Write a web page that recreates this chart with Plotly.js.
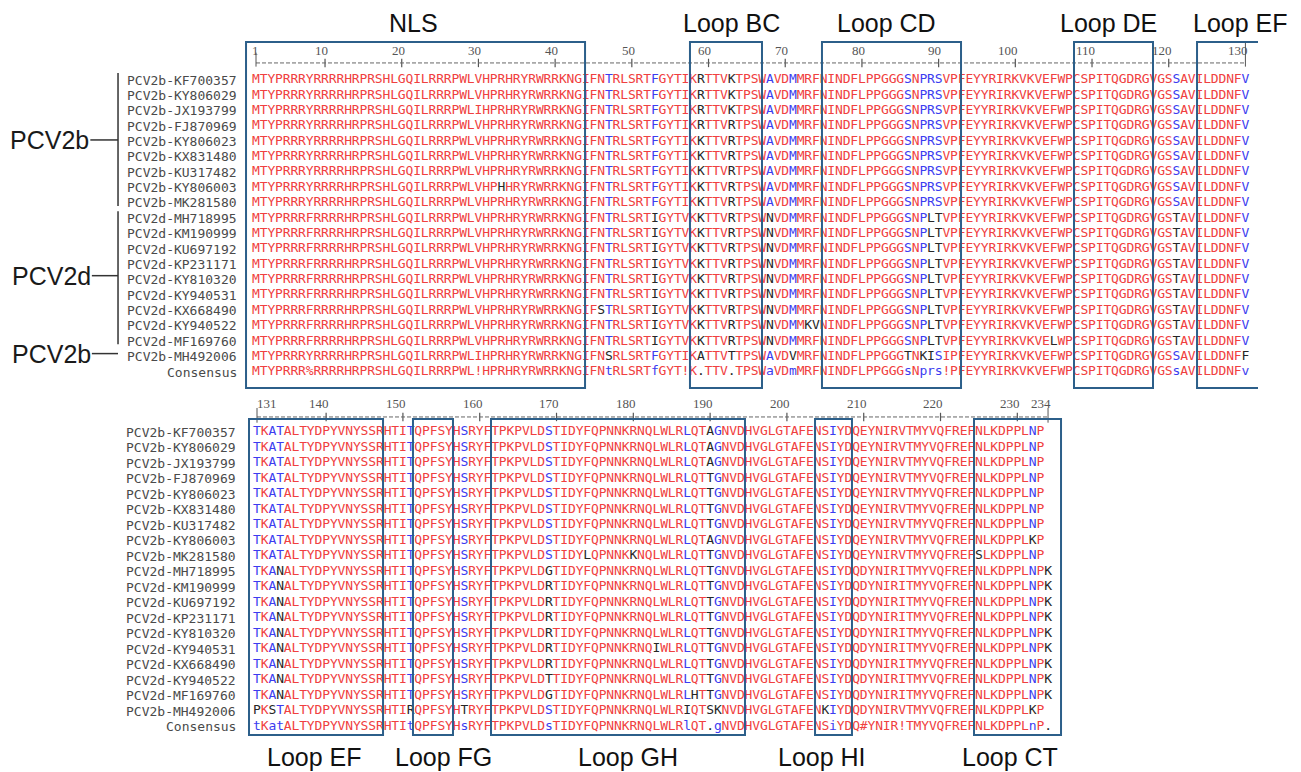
<!DOCTYPE html>
<html>
<head>
<meta charset="utf-8">
<script src="https://cdn.plot.ly/plotly-3.0.1.min.js"></script>
<style>
html,body{margin:0;padding:0;background:#fff;overflow:hidden}
#chart{width:1301px;height:772px}
</style>
</head>
<body>
<div id="chart"></div>
<script>
// ---------------- DATA ----------------
const seqNames = [
  "PCV2b-KF700357","PCV2b-KY806029","PCV2b-JX193799","PCV2b-FJ870969","PCV2b-KY806023",
  "PCV2b-KX831480","PCV2b-KU317482","PCV2b-KY806003","PCV2b-MK281580","PCV2d-MH718995",
  "PCV2d-KM190999","PCV2d-KU697192","PCV2d-KP231171","PCV2d-KY810320","PCV2d-KY940531",
  "PCV2d-KX668490","PCV2d-KY940522","PCV2d-MF169760","PCV2b-MH492006"
];
const consensusName = "Consensus";

// aligned capsid sequences (spaces every 10 residues only for readability)
const seqs = [
"MTYPRRRYRR RRHRPRSHLG QILRRRPWLV HPRHRYRWRR KNGIFNTRLS RTFGYTIKRT TVKTPSWAVD MMRFNINDFL PPGGGSNPRS VPFEYYRIRK VKVEFWPCSP ITQGDRGVGS SAVILDDNFV TKATALTYDP YVNYSSRHTI TQPFSYHSRY FTPKPVLDST IDYFQPNNKR NQLWLRLQTA GNVDHVGLGT AFENSIYDQE YNIRVTMYVQ FREFNLKDPP LNP",
"MTYPRRRYRR RRHRPRSHLG QILRRRPWLV HPRHRYRWRR KNGIFNTRLS RTFGYTIKRT TVKTPSWAVD MMRFNINDFL PPGGGSNPRS VPFEYYRIRK VKVEFWPCSP ITQGDRGVGS SAVILDDNFV TKATALTYDP YVNYSSRHTI TQPFSYHSRY FTPKPVLDST IDYFQPNNKR NQLWLRLQTA GNVDHVGLGT AFENSIYDQE YNIRVTMYVQ FREFNLKDPP LNP",
"MTYPRRRYRR RRHRPRSHLG QILRRRPWLI HPRHRYRWRR KNGIFNTRLS RTFGYTIKRT TVKTPSWAVD MMRFNINDFL PPGGGSNPRS VPFEYYRIRK VKVEFWPCSP ITQGDRGVGS SAVILDDNFV TKATALTYDP YVNYSSRHTI TQPFSYHSRY FTPKPVLDST IDYFQPNNKR NQLWLRLQTA GNVDHVGLGT AFENSIYDQE YNIRVTMYVQ FREFNLKDPP LNP",
"MTYPRRRYRR RRHRPRSHLG QILRRRPWLV HPRHRYRWRR KNGIFNTRLS RTFGYTIKRT TVRTPSWAVD MMRFNINDFL PPGGGSNPRS VPFEYYRIRK VKVEFWPCSP ITQGDRGVGS SAVILDDNFV TKATALTYDP YVNYSSRHTI TQPFSYHSRY FTPKPVLDST IDYFQPNNKR NQLWLRLQTT GNVDHVGLGT AFENSIYDQE YNIRVTMYVQ FREFNLKDPP LNP",
"MTYPRRRYRR RRHRPRSHLG QILRRRPWLV HPRHRYRWRR KNGIFNTRLS RTFGYTIKKT TVRTPSWAVD MMRFNINDFL PPGGGSNPRS VPFEYYRIRK VKVEFWPCSP ITQGDRGVGS SAVILDDNFV TKATALTYDP YVNYSSRHTI TQPFSYHSRY FTPKPVLDST IDYFQPNNKR NQLWLRLQTT GNVDHVGLGT AFENSIYDQE YNIRVTMYVQ FREFNLKDPP LNP",
"MTYPRRRYRR RRHRPRSHLG QILRRRPWLV HPRHRYRWRR KNGIFNTRLS RTFGYTIKKT TVRTPSWAVD MMRFNINDFL PPGGGSNPRS VPFEYYRIRK VKVEFWPCSP ITQGDRGVGS SAVILDDNFV TKATALTYDP YVNYSSRHTI TQPFSYHSRY FTPKPVLDST IDYFQPNNKR NQLWLRLQTT GNVDHVGLGT AFENSIYDQE YNIRVTMYVQ FREFNLKDPP LNP",
"MTYPRRRYRR RRHRPRSHLG QILRRRPWLV HPRHRYRWRR KNGIFNTRLS RTFGYTIKKT TVRTPSWAVD MMRFNINDFL PPGGGSNPRS VPFEYYRIRK VKVEFWPCSP ITQGDRGVGS SAVILDDNFV TKATALTYDP YVNYSSRHTI TQPFSYHSRY FTPKPVLDST IDYFQPNNKR NQLWLRLQTT GNVDHVGLGT AFENSIYDQE YNIRVTMYVQ FREFNLKDPP LNP",
"MTYPRRRYRR RRHRPRSHLG QILRRRPWLV HPHHRYRWRR KNGIFNTRLS RTFGYTIKKT TVRTPSWAVD MMRFNINDFL PPGGGSNPRS VPFEYYRIRK VKVEFWPCSP ITQGDRGVGS SAVILDDNFV TKATALTYDP YVNYSSRHTI TQPFSYHSRY FTPKPVLDST IDYFQPNNKR NQLWLRLQTA GNVDHVGLGT AFENSIYDQE YNIRVTMYVQ FREFNLKDPP LKP",
"MTYPRRRYRR RRHRPRSHLG QILRRRPWLV HPRHRYRWRR KNGIFNTRLS RTFGYTIKKT TVRTPSWAVD MMRFNINDFL PPGGGSNPRS VPFEYYRIRK VKVEFWPCSP ITQGDRGVGS SAVILDDNFV TKATALTYDP YVNYSSRHTI TQPFSYHSRY FTPKPVLDST IDYLQPNNKK NQLWLRLQTT GNVDHVGLGT AFENSIYDQE YNIRVTMYVQ FREFSLKDPP LNP",
"MTYPRRRFRR RRHRPRSHLG QILRRRPWLV HPRHRYRWRR KNGIFNTRLS RTIGYTVKKT TVRTPSWNVD MMRFNINDFL PPGGGSNPLT VPFEYYRIRK VKVEFWPCSP ITQGDRGVGS TAVILDDNFV TKANALTYDP YVNYSSRHTI TQPFSYHSRY FTPKPVLDGT IDYFQPNNKR NQLWLRLQTT GNVDHVGLGT AFENSIYDQD YNIRITMYVQ FREFNLKDPP LNPK",
"MTYPRRRFRR RRHRPRSHLG QILRRRPWLV HPRHRYRWRR KNGIFNTRLS RTIGYTVKKT TVRTPSWNVD MMRFNINDFL PPGGGSNPLT VPFEYYRIRK VKVEFWPCSP ITQGDRGVGS TAVILDDNFV TKANALTYDP YVNYSSRHTI TQPFSYHSRY FTPKPVLDRT IDYFQPNNKR NQLWLRLQTT GNVDHVGLGT AFENSIYDQD YNIRITMYVQ FREFNLKDPP LNPK",
"MTYPRRRFRR RRHRPRSHLG QILRRRPWLV HPRHRYRWRR KNGIFNTRLS RTIGYTVKKT TVRTPSWNVD MMRFNINDFL PPGGGSNPLT VPFEYYRIRK VKVEFWPCSP ITQGDRGVGS TAVILDDNFV TKANALTYDP YVNYSSRHTI TQPFSYHSRY FTPKPVLDRT IDYFQPNNKR NQLWLRLQTT GNVDHVGLGT AFENSIYDQD YNIRITMYVQ FREFNLKDPP LNPK",
"MTYPRRRFRR RRHRPRSHLG QILRRRPWLV HPRHRYRWRR KNGIFNTRLS RTIGYTVKKT TVRTPSWNVD MMRFNINDFL PPGGGSNPLT VPFEYYRIRK VKVEFWPCSP ITQGDRGVGS TAVILDDNFV TKANALTYDP YVNYSSRHTI TQPFSYHSRY FTPKPVLDRT IDYFQPNNKR NQLWLRLQTT GNVDHVGLGT AFENSIYDQD YNIRITMYVQ FREFNLKDPP LNPK",
"MTYPRRRFRR RRHRPRSHLG QILRRRPWLV HPRHRYRWRR KNGIFNTRLS RTIGYTVKKT TVRTPSWNVD MMRFNINDFL PPGGGSNPLT VPFEYYRIRK VKVEFWPCSP ITQGDRGVGS TAVILDDNFV TKANALTYDP YVNYSSRHTI TQPFSYHSRY FTPKPVLDRT IDYFQPNNKR NQLWLRLQTT GNVDHVGLGT AFENSIYDQD YNIRITMYVQ FREFNLKDPP LNPK",
"MTYPRRRFRR RRHRPRSHLG QILRRRPWLV HPRHRYRWRR KNGIFNTRLS RTIGYTVKKT TVRTPSWNVD MMRFNINDFL PPGGGSNPLT VPFEYYRIRK VKVEFWPCSP ITQGDRGVGS TAVILDDNFV TKANALTYDP YVNYSSRHTI TQPFSYHSRY FTPKPVLDRT IDYFQPNNKR NQIWLRLQTT GNVDHVGLGT AFENSIYDQD YNIRITMYVQ FREFNLKDPP LNPK",
"MTYPRRRFRR RRHRPRSHLG QILRRRPWLV HPRHRYRWRR KNGIFSTRLS RTIGYTVKKT TVRTPSWNVD MMRFNINDFL PPGGGSNPLT VPFEYYRIRK VKVEFWPCSP ITQGDRGVGS TAVILDDNFV TKANALTYDP YVNYSSRHTI TQPFSYHSRY FTPKPVLDRT IDYFQPNNKR NQLWLRLQTT GNVDHVGLGT AFENSIYDQD YNIRITMYVQ FREFNLKDPP LNPK",
"MTYPRRRFRR RRHRPRSHLG QILRRRPWLV HPRHRYRWRR KNGIFNTRLS RTIGYTVKKT TVRTPSWNVD MMKVNINDFL PPGGGSNPLT VPFEYYRIRK VKVEFWPCSP ITQGDRGVGS TAVILDDNFV TKANALTYDP YVNYSSRHTI TQPFSYHSRY FTPKPVLDTT IDYFQPNNKR NQLWLRLQTT GNVDHVGLGT AFENSIYDQD YNIRITMYVQ FREFNLKDPP LNPK",
"MTYPRRRFRR RRHRPRSHLG QILRRRPWLV HPRHRYRWRR KNGIFNTRLS RTIGYTVKKT TVRTPSWNVD MMRFNINDFL PPGGGSNPLT VPFEYYRIRK VKVELWPCSP ITQGDRGVGS TAVILDDNFV TKANALTYDP YVNYSSRHTI TQPFSYHSRY FTPKPVLDGT IDYFQPNNKR NQLWLRLHTT GNVDHVGLGT AFENSIYDQD YNIRITMYVQ FREFNLKDPP LNPK",
"MTYPRRRYRR RRHRPRSHLG QILRRRPWLI HPRHRYRWRR KNGIFNSRLS RTFGYTIKAT TVTTPSWAVD VMRFNINDFL PPGGGTNKIS IPFEYYRIRK VKVEFWPCSP ITQGDRGVGS SAVILDDNFF PKSTALTYDP YVNYSSRHTI RQPFSYHTRY FTPKPVLDST IDYFQPNNKR NQLWLRIQTS KNVDHVGLGT AFENKIYDQD YNIRVTMYVQ FREFNLKDPP LKP"
];
// MultAlin-style consensus: UPPER = high (red), lower = low (blue), ! I/V, % F/Y, # N/D/Q/E, . none
const consensus =
"MTYPRRR%RR RRHRPRSHLG QILRRRPWL! HPRHRYRWRR KNGIFNtRLS RTfGYT!K.T TV.TPSWaVD mMRFNINDFL PPGGGsNprs !PFEYYRIRK VKVEFWPCSP ITQGDRGVGS sAVILDDNFv tKatALTYDP YVNYSSRHTI tQPFSYHsRY FTPKPVLDsT IDYFQPNNKR NQLWLRlQT. gNVDHVGLGT AFENSiYDQ# YNIR!TMYVQ FREFNLKDPP LnP.";

// alignment wrapped in two blocks of residues
const blockFrom = [1, 131];
const blockTo   = [130, 234];
const rulerTicksTop    = [1,10,20,30,40,50,60,70,80,90,100,110,120,130];
const rulerTicksBottom = [131,140,150,160,170,180,190,200,210,220,230,234];

// group brackets (row ranges, 0-based)
const groupNames = ["PCV2b","PCV2d","PCV2b"];
const groupFirstRow = [0, 9, 18];
const groupLastRow  = [8, 17, 18];
const groupLabelRow = [3.9, 12.73, 17.8];

const topLoopNames  = ["NLS","Loop BC","Loop CD","Loop DE","Loop EF"];
const topLoopStart  = [-0.3, 57.58, 74.79, 107.65, 123.69];
const topLoopEnd    = [43.9, 66.97, 92.92, 117.95, 131.64];
const topLoopLabelAt= [21.47, 62.93, 83.2, 112.1, 129.4];
const topLoopOpen   = [false,false,false,false,true];
const botLoopNames  = ["Loop EF","Loop FG","Loop GH","Loop HI","Loop CT"];
const botLoopStart  = [129.96, 151.31, 161.47, 203.66, 224.36];
const botLoopEnd    = [147.41, 156.52, 194.54, 208.47, 235.69];
const botLoopLabelAt= [138.55, 155.22, 179.31, 204.57, 229.05];

// ---------------- STYLE ----------------
const RED = '#f04040', BLUE = '#3c3cf0', BLACK = '#262626';
const BOX = '#2c5f8a';
const seqFont = 'DejaVu Sans Mono, monospace';
const nameFont = 'DejaVu Sans Mono, monospace';
const labelFont = 'Liberation Sans, Arial, sans-serif';

// ---------------- BUILD ----------------
const clean = s => s.replace(/ /g, '');
const S = seqs.map(clean);
const C = clean(consensus);
const symGroups = {'!':'IV', '$':'LM', '%':'FY', '#':'NDQEBZ'};

function residueColor(ch, k) {
  if (k === '.' || k === ' ') return BLACK;
  if (symGroups[k]) return symGroups[k].indexOf(ch) >= 0 ? RED : BLACK;
  if (k === k.toUpperCase()) return ch === k ? RED : BLACK;
  return ch === k.toUpperCase() ? BLUE : BLACK;
}
function consColor(k) {
  if (k === '.') return BLACK;
  if (symGroups[k]) return RED;
  if (k === k.toUpperCase()) return RED;
  return BLUE;
}

const axes = [['x','y'], ['x2','y2']];
const traces = [];
const annotations = [];
const shapes = [];

for (let b = 0; b < 2; b++) {
  const [xa, ya] = axes[b];
  const buckets = {};
  [RED, BLUE, BLACK].forEach(c => buckets[c] = {x:[], y:[], t:[]});
  for (let p = blockFrom[b]; p <= blockTo[b]; p++) {
    const k = C[p-1];
    for (let r = 0; r < S.length; r++) {
      const ch = S[r][p-1];
      if (!ch) continue;
      const c = residueColor(ch, k);
      buckets[c].x.push(p); buckets[c].y.push(r); buckets[c].t.push(ch);
    }
    const cc = consColor(k);
    buckets[cc].x.push(p); buckets[cc].y.push(S.length); buckets[cc].t.push(k);
  }
  [RED, BLUE, BLACK].forEach(c => {
    traces.push({type:'scatter', mode:'text', x:buckets[c].x, y:buckets[c].y, text:buckets[c].t,
      textposition:'middle center', textfont:{family:seqFont, size:13, color:c},
      xaxis:xa, yaxis:ya, hoverinfo:'skip', showlegend:false, cliponaxis:false});
  });

  // sequence names
  const nameX = b === 0 ? -1.4 : 128.4;
  seqNames.concat([consensusName]).forEach((n, r) => {
    annotations.push({xref:xa, yref:ya, x:nameX, y:r, text:n, showarrow:false, xanchor:'right', yanchor:'middle',
      font:{family:nameFont, size:13, color:'#4a4a4a'}, borderpad:0});
  });

  // ruler
  const ticks = b === 0 ? rulerTicksTop : rulerTicksBottom;
  const numY = b === 0 ? -1.95 : -1.87;
  const lineY = b === 0 ? -1.11 : -0.97;
  ticks.forEach((t, i) => {
    const first = (b === 1 && i === 0);
    annotations.push({xref:xa, yref:ya, x: first ? t - 0.1 : t + 0.5, y:numY, text:String(t), showarrow:false,
      xanchor: first ? 'left' : 'right', yanchor:'middle', borderpad:0,
      font:{family:'Liberation Serif, Times New Roman, serif', size:13, color:'#555'}});
  });
  const tFirst = ticks[0], tLast = ticks[ticks.length-1];
  shapes.push({type:'line', xref:xa, yref:ya, x0:tFirst, x1:tLast, y0:lineY, y1:lineY,
    line:{color:'#666', width:1, dash:'4px,2px'}});
  const inner = ticks.filter(t => t % 10 === 0 && t !== tFirst && t !== tLast);
  traces.push({type:'scatter', mode:'markers', x:inner, y:inner.map(() => lineY), xaxis:xa, yaxis:ya,
    marker:{symbol:'line-ns-open', size:6, color:'#555', line:{width:1.2, color:'#555'}},
    hoverinfo:'skip', showlegend:false});
  [tFirst, tLast].forEach((t, j) => {
    const top = (b === 0 && j === 1) ? -2.47 : (b === 0 ? -1.78 : -1.55);
    shapes.push({type:'line', xref:xa, yref:ya, x0:t, x1:t, y0:top, y1: b === 0 ? -0.87 : -0.6,
      line:{color:'#555', width:1}});
  });
}

// loop boxes
const topY0 = -2.47, topY1 = 20.04, botY0 = -0.84, botY1 = 19.55;
topLoopNames.forEach((n, i) => {
  if (topLoopOpen[i]) {
    const x0 = topLoopStart[i], x1 = topLoopEnd[i];
    shapes.push({type:'path', xref:'x', yref:'y',
      path:`M ${x1},${topY0} L ${x0},${topY0} L ${x0},${topY1} L ${x1},${topY1}`,
      line:{color:BOX, width:2}});
  } else {
    shapes.push({type:'rect', xref:'x', yref:'y', x0:topLoopStart[i], x1:topLoopEnd[i], y0:topY0, y1:topY1,
      line:{color:BOX, width:2}, fillcolor:'rgba(0,0,0,0)'});
  }
  annotations.push({xref:'x', yref:'y', x:topLoopLabelAt[i], y:-3.69, text:n, showarrow:false,
    xanchor:'center', yanchor:'middle', font:{family:labelFont, size:25, color:'#111'}});
});
botLoopNames.forEach((n, i) => {
  shapes.push({type:'rect', xref:'x2', yref:'y2', x0:botLoopStart[i], x1:botLoopEnd[i], y0:botY0, y1:botY1,
    line:{color:BOX, width:2}, fillcolor:'rgba(0,0,0,0)'});
  annotations.push({xref:'x2', yref:'y2', x:botLoopLabelAt[i], y:20.94, text:n, showarrow:false,
    xanchor:'center', yanchor:'middle', font:{family:labelFont, size:25, color:'#111'}});
});

// group brackets
const bracketX = -16.99, dashStart = [-20.6, -20.4, -20.4];
groupNames.forEach((g, i) => {
  if (groupLastRow[i] > groupFirstRow[i]) {
    shapes.push({type:'line', xref:'x', yref:'y', x0:bracketX, x1:bracketX,
      y0:groupFirstRow[i]-0.46, y1:groupLastRow[i]+0.2, line:{color:'#333', width:1.5}});
  }
  shapes.push({type:'line', xref:'x', yref:'y', x0:dashStart[i], x1:bracketX,
    y0:groupLabelRow[i], y1:groupLabelRow[i], line:{color:'#333', width:1.5}});
  annotations.push({xref:'x', yref:'y', x:dashStart[i], y:groupLabelRow[i], text:g, showarrow:false,
    xanchor:'right', yanchor:'middle', borderpad:0, font:{family:labelFont, size:25, color:'#1a1a1a'}});
});

const layout = {
  width:1301, height:772, margin:{l:0, r:0, t:0, b:0},
  paper_bgcolor:'#ffffff', plot_bgcolor:'rgba(0,0,0,0)', showlegend:false,
  xaxis:{domain:[0,1], range:[-32.377, 137.246], visible:false, fixedrange:true, anchor:'y'},
  yaxis:{domain:[0.48834,1], range:[20.494, -5.205], visible:false, fixedrange:true, anchor:'x'},
  xaxis2:{domain:[0,1], range:[97.536, 266.938], visible:false, fixedrange:true, anchor:'y2'},
  yaxis2:{domain:[0,0.48834], range:[21.935, -2.387], visible:false, fixedrange:true, anchor:'x2'},
  shapes:shapes, annotations:annotations
};
Plotly.newPlot('chart', traces, layout, {staticPlot:true, displayModeBar:false});
</script>
</body>
</html>
